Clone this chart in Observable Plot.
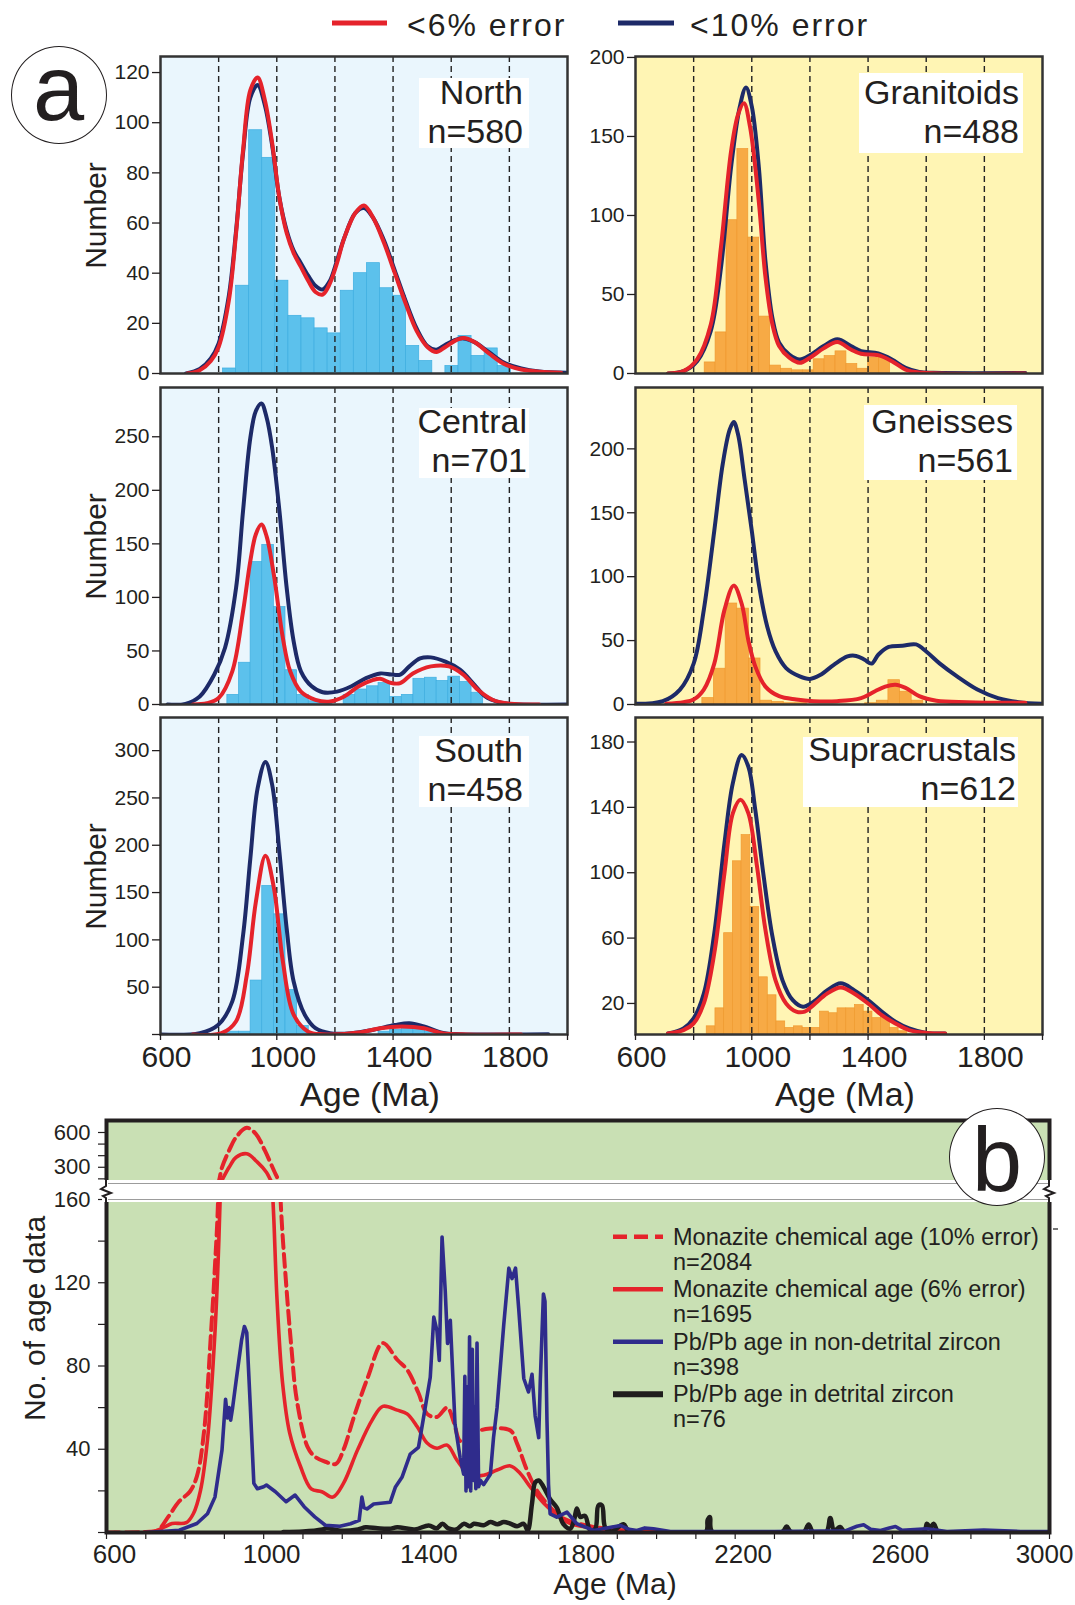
<!DOCTYPE html>
<html><head><meta charset="utf-8">
<script src="https://cdn.jsdelivr.net/npm/d3@7"></script>
<script src="https://cdn.jsdelivr.net/npm/@observablehq/plot@0.6"></script>
<style>
html,body{margin:0;padding:0;background:#fff;}
#root{position:relative;width:1075px;height:1605px;overflow:hidden;background:#fff;font-family:"Liberation Sans",Arial,Helvetica,sans-serif;color:#231f20;}
.t{position:absolute;white-space:nowrap;line-height:1;}
.box{position:absolute;background:#fff;}
.rot{position:absolute;white-space:nowrap;text-align:center;transform:rotate(-90deg);transform-origin:50% 50%;}
</style></head><body><div id="root"></div>
<script>
// ---------------- DATA ----------------
const AGE_DOMAIN = [600, 2000];
const DASHED_AGES = [800, 1000, 1200, 1400, 1600, 1800];
const A_X_TICKS = [600, 800, 1000, 1200, 1400, 1600, 1800, 2000];
const A_X_LABELS = [600, 1000, 1400, 1800];
const PANEL_NAMES = ["North", "Central", "South", "Granitoids", "Gneisses", "Supracrustals"];
const PANEL_N = [580, 701, 458, 488, 561, 612];
const LEGEND_A = ["<6% error", "<10% error"];
const Y_LABEL_A = "Number";
const X_LABEL = "Age (Ma)";

// histogram bins (start age, bin width, counts)
const northBins = {start: 815, width: 45, counts: [2,35,97,86,37,23,22,18,16,33,40,44,34,31,11,5,0,3,15,7,10,3]};
const centralBins = {start: 830, width: 40, counts: [9,39,133,149,91,32,9,3,1,0,9,14,17,20,7,9,24,25,22,26,21,11]};
const southBins = {start: 830, width: 40, counts: [3,3,57,157,127,47,9,0,0,0,0,0,0,3,5,7,6,3]};
const granBins = {start: 838, width: 37.5, counts: [7,26,97,142,86,36,5,3,2,2,9,11,14,6,3,10,10]};
const gneissBins = {start: 830, width: 40, counts: [5,28,79,75,36,3,2,1,1,0,0,0,0,0,1,3,19,10,3]};
const supraBins = {start: 845, width: 30, counts: [6,17,63,107,123,79,36,25,9,5,6,5,5,15,14,17,17,19,15,11,12,5,3]};

// probability curves [age, number]
const northRed = [[692,0],[735,1.3],[773,5],[800,10.6],[835,29],[860,56],[884,89],[909,113],[934,118],[959,109],[984,92],[1009,70],[1034,56],[1058,48],[1083,42.5],[1108,37],[1133,32.5],[1158,31.5],[1183,36],[1207,44],[1232,54],[1270,64],[1300,67],[1332,62],[1369,52],[1406,40],[1443,28],[1481,17],[1518,10.6],[1549,8.6],[1580,10.6],[1617,13.3],[1642,14.2],[1680,12.6],[1730,8],[1779,4],[1841,1.6],[1903,0.7],[1978,0.3]];
const northBlue = [[688,0],[735,1.8],[773,6],[800,12],[835,31],[860,57],[884,88],[909,110],[934,115],[959,107],[984,91],[1009,70],[1034,57],[1058,49],[1083,44],[1108,39],[1133,35],[1158,33.5],[1183,37],[1207,45],[1232,54],[1270,64],[1300,66],[1332,62],[1369,53],[1406,41],[1443,29],[1481,18],[1518,11],[1549,9.5],[1580,11.5],[1617,13.5],[1642,14],[1680,12.5],[1730,8.5],[1779,4.5],[1841,2],[1903,0.8],[2000,0.3]];
const centralBlue = [[624,0],[686,0.6],[735,7.5],[785,28],[822,53],[860,109],[884,181],[909,249],[928,274],[947,281],[965,268],[984,240],[1009,181],[1034,109],[1058,59],[1083,31],[1120,17],[1158,11.5],[1207,12],[1257,17],[1307,24.6],[1356,29],[1394,28],[1425,28],[1456,35.6],[1493,43],[1530,44],[1580,40],[1630,32.5],[1680,18.4],[1717,7.5],[1767,1.9],[1816,0.3],[2000,0]];
const centralRed = [[711,0],[760,1.2],[800,6],[847,31],[884,87],[909,134],[928,159],[947,168],[965,157],[990,121],[1021,62],[1046,31],[1083,12],[1133,4.4],[1183,2.8],[1232,7.5],[1282,17],[1332,23],[1356,24],[1394,20],[1425,20],[1468,29],[1530,35.6],[1592,35.6],[1642,27.8],[1692,13.7],[1742,4.4],[1804,0.6],[1903,0]];
const southBlue = [[600,0],[735,1.4],[798,10],[847,35],[884,105],[909,186],[934,260],[961,288],[984,264],[1009,193],[1034,112],[1058,56],[1096,21],[1133,6.7],[1183,1.4],[1257,1.4],[1332,5],[1406,10],[1456,12],[1506,8.5],[1568,2],[1630,0.3],[1934,0.3]];
const southRed = [[711,0],[810,1.4],[860,14],[897,63],[928,140],[961,189],[990,155],[1021,77],[1058,21],[1108,3],[1158,0.3],[1282,2],[1356,6.7],[1431,8.5],[1506,6.7],[1568,1.4],[1655,0],[1841,0]];
const granBlue = [[712,0],[765,1.5],[812,7.8],[859,27],[894,67],[929,131],[959,169],[980,181],[1000,169],[1024,131],[1047,71],[1071,35],[1094,19.5],[1129,12],[1165,8.9],[1200,11.6],[1247,17.4],[1294,21.6],[1341,17.4],[1376,14.2],[1435,12.7],[1482,8.9],[1529,3.6],[1576,1],[1624,0.4],[1941,0.3]];
const granRed = [[712,0],[765,1.5],[812,8.9],[859,31],[894,80],[929,141],[953,164],[973,171],[994,156],[1024,109],[1047,61],[1071,31],[1094,17.4],[1129,10],[1165,6.8],[1200,10],[1247,15.9],[1294,20],[1341,15.2],[1376,12.5],[1435,11.6],[1482,7.8],[1529,2.5],[1576,0.6],[1941,0]];
const gneissBlue = [[600,0.5],[694,2.6],[753,11.7],[800,32],[835,74],[871,136],[900,188],[924,215],[938,221],[953,211],[976,175],[1000,136],[1024,94.6],[1053,61],[1082,41.5],[1118,28.5],[1165,22],[1200,20],[1235,23],[1282,31],[1329,37.6],[1359,38],[1388,35],[1412,32],[1435,38.9],[1471,45],[1518,46],[1565,47],[1600,41.5],[1647,32],[1706,22],[1776,11.7],[1847,5],[1918,1.8],[2000,0.5]];
const gneissRed = [[706,0.5],[765,1.8],[800,3.9],[835,11.7],[871,32],[906,74],[938,93],[965,79],[988,50.5],[1012,29.8],[1047,14],[1094,6.5],[1153,3.9],[1212,2.6],[1294,2.6],[1376,5],[1424,10.4],[1459,14],[1494,15.5],[1529,13],[1576,6.5],[1635,3],[1741,1.8],[1941,1.3]];
const supraBlue = [[712,1.6],[765,4.7],[800,10.8],[835,26],[871,63],[906,118],[935,155],[965,172],[988,165],[1012,138.5],[1041,97.7],[1071,61],[1106,34],[1141,22],[1176,18],[1212,21],[1259,28],[1306,32.3],[1353,28],[1400,22],[1447,15],[1494,8.8],[1541,4.7],[1600,2],[1665,1.6]];
const supraRed = [[712,1.6],[765,3.7],[800,7.8],[835,20],[871,50.7],[906,99.7],[935,136.5],[961,144.7],[988,136.5],[1018,103.8],[1047,65],[1082,34],[1118,20],[1153,15],[1182,15],[1212,19],[1259,26],[1306,29.8],[1353,26],[1400,20],[1447,12.9],[1494,7.8],[1541,3.7],[1600,2],[1665,1.6]];

// y ticks
const northTicks = [0,20,40,60,80,100,120];
const centralTicks = [0,50,100,150,200,250];
const southTicks = [0,50,100,150,200,250,300];
const southLabels = [50,100,150,200,250,300];
const granTicks = [0,50,100,150,200];
const gneissTicks = [0,50,100,150,200];
const supraTicks = [20,60,100,140,180];

// panel b
const B_AGE_DOMAIN = [600, 3000];
const B_AGE_LABELS = [600, 1000, 1400, 1800, 2200, 2600, 3000];
const B_UPPER_TICKS = [200, 300, 400, 500, 600];
const B_UPPER_LABELS = [300, 600];
const B_LOWER_TICKS = [0, 20, 40, 60, 80, 100, 120, 140, 160];
const B_LOWER_LABELS = [40, 80, 120, 160];
const B_Y_LABEL = "No. of age data";
const B_LEGEND = ["Monazite chemical age (10% error)", "Monazite chemical age (6% error)", "Pb/Pb age in non-detrital zircon", "Pb/Pb age in detrital zircon"];
const B_LEGEND_N = ["n=2084", "n=1695", "n=398", "n=76"];

const monazite10 = [[600,0],[700,0.3],[730,1],[757,7.5],[785,15],[812,19.6],[830,27],[848,48],[866,96],[876,128],[884,160],[894,300],[912,445],[930,560],[957,640],[980,589],[1003,445],[1030,244],[1043,160],[1057,120],[1071,88],[1084,64],[1112,41],[1130,36.5],[1157,34],[1184,33],[1203,39.7],[1230,55.7],[1266,75],[1303,91],[1340,83],[1366,78],[1394,67],[1416,57],[1441,55.5],[1467,60],[1484,53],[1500,44],[1520,45],[1551,49],[1577,50],[1628,49],[1645,42.7],[1670,30],[1696,20],[1730,12],[1763,6.7],[1806,4],[1849,2.4],[1916,1],[2000,0.3]];
const monazite6 = [[620,0],[720,0.5],[748,2.7],[767,4.3],[803,4.7],[821,9],[839,20],[857,44.5],[876,96],[884,130],[890,165],[912,300],[930,387],[957,416],[984,344],[1007,257],[1020,175],[1026,150],[1034,112],[1048,72],[1066,48],[1094,31.6],[1121,21],[1148,19.6],[1176,17],[1203,23.6],[1239,39.7],[1276,54],[1303,60.6],[1340,58.8],[1365,57],[1391,50.8],[1416,43],[1441,40.5],[1467,42],[1492,34.7],[1526,27.5],[1560,27.5],[1594,30],[1628,32],[1653,28.4],[1679,21.8],[1713,14],[1747,8.2],[1781,4.3],[1849,1.9],[1916,1],[2000,0.3]];
const zirconNonDetrital = [[698,0],[785,1.1],[830,4.3],[857,9],[876,17],[894,39.7],[903,64],[908,55],[912,60],[916,54],[921,60],[930,73],[944,92.7],[951,99],[957,96],[966,60.6],[975,23.6],[984,21],[1000,22],[1007,22.8],[1030,19.6],[1057,14.8],[1080,18],[1103,12.4],[1130,7.5],[1157,3.5],[1194,3],[1221,4.2],[1243,5.8],[1250,17],[1255,12],[1263,11.3],[1280,13.7],[1322,14.5],[1335,21.7],[1352,26.5],[1373,37.7],[1394,40.9],[1407,55.3],[1424,74.6],[1433,103.5],[1441,97],[1447,82.7],[1454,142],[1462,116.5],[1468,90.8],[1475,102],[1487,52],[1500,36],[1509,28],[1512,75],[1515,20],[1518,70],[1521,22],[1524,94],[1527,20],[1531,88],[1534,25],[1537,60],[1540,21],[1543,91],[1547,22],[1552,25],[1560,23],[1577,28],[1585,45.6],[1594,60],[1611,99.8],[1624,127],[1632,122],[1641,127],[1649,107.8],[1662,74],[1674,67.5],[1683,76],[1691,56],[1700,45.6],[1704,72.8],[1712,114.6],[1716,111],[1721,54],[1725,23],[1729,9],[1746,7.4],[1772,9.8],[1797,4.2],[1840,1],[1870,2],[1908,3.4],[1930,1.5],[1950,1],[1970,2.2],[1992,1.8],[2035,0.5],[2300,0.5],[2480,0.8],[2510,3],[2527,3.7],[2545,1.5],[2570,1],[2590,2],[2608,2.9],[2625,1],[2688,1.8],[2739,0.5],[2833,1.2],[2926,0.5],[3000,0.5]];
const zirconDetrital = [[1050,0.3],[1100,0.5],[1150,1.5],[1160,2],[1200,0.8],[1240,1.5],[1260,2.5],[1290,2],[1320,1.8],[1340,2.5],[1385,1.5],[1420,3.4],[1440,2],[1455,4.2],[1470,2],[1490,1.5],[1510,4.2],[1525,3],[1535,4.2],[1560,3.5],[1577,5],[1595,4],[1611,5],[1628,4.2],[1645,3],[1662,4.2],[1672,1],[1683,14],[1691,24],[1700,25],[1712,22],[1729,16],[1746,12],[1763,4],[1780,1.8],[1790,6],[1797,11.5],[1806,7.5],[1818,8],[1831,1],[1844,1.8],[1852,13],[1861,13],[1869,2.6],[1885,0.5],[1916,4],[1930,0.5],[2125,0.3],[2130,6],[2136,7.4],[2142,0.3],[2320,0.3],[2331,2.9],[2342,0.3],[2375,0.3],[2387,3.9],[2398,0.3],[2432,0.3],[2442,7],[2452,1],[2467,2.6],[2480,0.3],[2680,0.3],[2688,4.2],[2697,2.5],[2705,4.2],[2714,0.3]];

// ---------------- STYLE ----------------
const RED = "#e5232b", NAVY = "#1d2a68", BLUE_B = "#2f2c8c", BLACK = "#1f1d1d", INK = "#231f20";
const FONT = "'Liberation Sans', Arial, Helvetica, sans-serif";
const root = document.getElementById("root");
function put(el, left, top) { el.style.position = "absolute"; el.style.left = left + "px"; el.style.top = top + "px"; root.appendChild(el); return el; }
function div(cls, html, css) { const d = document.createElement("div"); if (cls) d.className = cls; if (html != null) d.textContent = html; Object.assign(d.style, css || {}); return d; }
function rotLabel(text, cx, cy, fs) {
  const w = 320, h = Math.round(fs * 1.15);
  put(div("rot", text, {width: w + "px", height: h + "px", lineHeight: h + "px", fontSize: fs + "px"}), cx - w / 2, cy - h / 2);
}

// ---------------- PANEL A ----------------
const FW = 407, FH = 317, ML = 110, MR = 14, MT = 12;
const COLX = [160, 635], ROWY = [56, 387, 717];
const LEFT_STYLE = {bg: "#eaf6fd", barFill: "#5cc1ec", barStroke: "#3eaee0"};
const RIGHT_STYLE = {bg: "#fff5b4", barFill: "#f7aa45", barStroke: "#ef9a30"};

const panels = [
  {col:0,row:0,bins:northBins,red:northRed,blue:northBlue,ticks:northTicks,labels:northTicks,ydom:[0,126.4],box:[419,78,529,148],tr:523,b1:106},
  {col:0,row:1,bins:centralBins,red:centralRed,blue:centralBlue,ticks:centralTicks,labels:centralTicks,ydom:[0,296],box:[419,408,529,478],tr:527,b1:435},
  {col:0,row:2,bins:southBins,red:southRed,blue:southBlue,ticks:southTicks,labels:southLabels,ydom:[0,335],box:[419,736,529,807],tr:523,b1:764},
  {col:1,row:0,bins:granBins,red:granRed,blue:granBlue,ticks:granTicks,labels:granTicks,ydom:[0,200.6],box:[859,73,1023,153],tr:1019,b1:106},
  {col:1,row:1,bins:gneissBins,red:gneissRed,blue:gneissBlue,ticks:gneissTicks,labels:gneissTicks,ydom:[0,248],box:[864,405,1017,480],tr:1013,b1:435},
  {col:1,row:2,bins:supraBins,red:supraRed,blue:supraBlue,ticks:supraTicks,labels:supraTicks,ydom:[1,195],box:[803,737,1018,807],tr:1016,b1:763}
];

panels.forEach((p, i) => {
  const st = p.col === 0 ? LEFT_STYLE : RIGHT_STYLE;
  const bottom = p.row === 2;
  const MB = bottom ? 90 : 12;
  const bars = p.bins.counts.map((c, k) => ({x1: p.bins.start + k * p.bins.width, x2: p.bins.start + (k + 1) * p.bins.width, y: c}));
  const marks = [
    Plot.frame({fill: st.bg, stroke: "none"}),
    Plot.rectY(bars, {x1: "x1", x2: "x2", y: "y", fill: st.barFill, stroke: st.barStroke, strokeWidth: 0.7, clip: true}),
    Plot.ruleX(DASHED_AGES, {stroke: "#222", strokeWidth: 1.4, strokeDasharray: "6,4"}),
    Plot.line(p.blue, {x: d => d[0], y: d => d[1], stroke: NAVY, strokeWidth: 4, curve: "catmull-rom", clip: true}),
    Plot.line(p.red, {x: d => d[0], y: d => d[1], stroke: RED, strokeWidth: 4, curve: "catmull-rom", clip: true}),
    Plot.frame({stroke: "#333", strokeWidth: 2.5}),
    Plot.axisY({ticks: p.ticks, tickFormat: d => p.labels.includes(d) ? String(d) : "", tickSize: 8, tickPadding: 3, fontSize: 21, strokeWidth: 1.3, label: null})
  ];
  if (bottom) {
    marks.push(Plot.axisX({ticks: A_X_TICKS, tickFormat: () => "", tickSize: 6, strokeWidth: 1.3, label: null}));
    marks.push(Plot.text(A_X_LABELS, {x: d => d, text: d => String(d), frameAnchor: "bottom", lineAnchor: "top", dy: 11, dx: 6, fontSize: 30, fill: INK}));
    marks.push(Plot.text([X_LABEL], {text: d => d, frameAnchor: "bottom", dy: 71, dx: 6, fontSize: 34, fill: INK}));
  }
  const svg = Plot.plot({
    width: ML + FW + MR, height: MT + FH + MB,
    marginLeft: ML, marginRight: MR, marginTop: MT, marginBottom: MB,
    x: {domain: AGE_DOMAIN, axis: bottom ? undefined : null},
    y: {domain: p.ydom},
    style: {background: "transparent", fontFamily: FONT, color: INK, overflow: "visible"},
    marks
  });
  put(svg, COLX[p.col] - ML, ROWY[p.row] - MT);
  if (p.col === 0) rotLabel(Y_LABEL_A, 95, ROWY[p.row] + FH / 2 + 1, 30);
  // label box
  const [bx0, by0, bx1, by1] = p.box;
  const box = put(div("box", null, {width: (bx1 - bx0) + "px", height: (by1 - by0) + "px"}), bx0, by0);
  const txt = div("t", null, {fontSize: "34px", lineHeight: "39px", textAlign: "right", position: "absolute", right: (bx1 - p.tr) + "px", top: (p.b1 - 33.3 - by0) + "px"});
  txt.innerHTML = PANEL_NAMES[i] + "<br>n=" + PANEL_N[i];
  box.appendChild(txt);
});

// top legend
(function () {
  const s = document.createElementNS("http://www.w3.org/2000/svg", "svg");
  s.setAttribute("width", 1075); s.setAttribute("height", 50);
  s.innerHTML = `<line x1="332" y1="23" x2="387" y2="23" stroke="${RED}" stroke-width="5"/><line x1="618" y1="23" x2="674" y2="23" stroke="${NAVY}" stroke-width="5"/>`;
  put(s, 0, 0);
  put(div("t", LEGEND_A[0], {fontSize: "32px", letterSpacing: "2px"}), 407, 36 - 0.8465 * 32);
  put(div("t", LEGEND_A[1], {fontSize: "32px", letterSpacing: "2px"}), 690, 36 - 0.8465 * 32);
})();

// ---------------- PANEL B ----------------
const BX0 = 106, BW = 943, MLB = 100, MRB = 20;
const fmtFrom = labels => d => labels.includes(d) ? String(d) : "";
const bLines = () => [
  Plot.line(monazite10, {x: d => d[0], y: d => d[1], stroke: RED, strokeWidth: 4, strokeDasharray: "13,6", curve: "catmull-rom", clip: true}),
  Plot.line(monazite6, {x: d => d[0], y: d => d[1], stroke: RED, strokeWidth: 3.6, curve: "catmull-rom", clip: true}),
  Plot.line(zirconDetrital, {x: d => d[0], y: d => d[1], stroke: BLACK, strokeWidth: 4.5, curve: "catmull-rom", clip: true}),
  Plot.line(zirconNonDetrital, {x: d => d[0], y: d => d[1], stroke: BLUE_B, strokeWidth: 3.6, curve: "linear", clip: true})
];
const upper = Plot.plot({
  width: MLB + BW + MRB, height: 6 + 63 + 4,
  marginLeft: MLB, marginRight: MRB, marginTop: 6, marginBottom: 4,
  x: {domain: B_AGE_DOMAIN, axis: null},
  y: {domain: [160, 703.5]},
  style: {background: "transparent", fontFamily: FONT, color: INK, overflow: "visible"},
  marks: [
    Plot.frame({fill: "#c9e0b4", stroke: "none"}),
    ...bLines(),
    Plot.frame({stroke: INK, strokeWidth: 4}),
    Plot.axisY({ticks: B_UPPER_TICKS, tickFormat: fmtFrom(B_UPPER_LABELS), tickSize: 8, tickPadding: 8, fontSize: 22, strokeWidth: 1.2, label: null})
  ]
});
put(upper, BX0 - MLB, 1120 - 6);

const lower = Plot.plot({
  width: MLB + BW + MRB, height: 4 + 333 + 72,
  marginLeft: MLB, marginRight: MRB, marginTop: 4, marginBottom: 72,
  x: {domain: B_AGE_DOMAIN},
  y: {domain: [0, 160]},
  style: {background: "transparent", fontFamily: FONT, color: INK, overflow: "visible"},
  marks: [
    Plot.frame({fill: "#c9e0b4", stroke: "none"}),
    ...bLines(),
    Plot.frame({stroke: INK, strokeWidth: 4}),
    Plot.axisY({ticks: B_LOWER_TICKS, tickFormat: fmtFrom(B_LOWER_LABELS), tickSize: 8, tickPadding: 8, fontSize: 22, strokeWidth: 1.2, label: null}),
    Plot.axisX({ticks: d3.range(600, 3001, 100), tickFormat: () => "", tickSize: 7, strokeWidth: 1.2, label: null}),
    Plot.text(B_AGE_LABELS.slice(0, -1), {x: d => d, text: d => String(d), frameAnchor: "bottom", lineAnchor: "top", dy: 12, dx: 8, fontSize: 26, fill: INK}),
    Plot.text(B_AGE_LABELS.slice(-1), {x: d => d, text: d => String(d), frameAnchor: "bottom", lineAnchor: "top", dy: 12, dx: 24, textAnchor: "end", fontSize: 26, fill: INK}),
    Plot.text([X_LABEL], {text: d => d, frameAnchor: "bottom", dy: 61, dx: 37, fontSize: 30, fill: INK})
  ]
});
put(lower, BX0 - MLB, 1199 - 4);
rotLabel(B_Y_LABEL, 34, 1318, 30);

// axis break band
(function () {
  const gap = put(div(null, null, {width: "952px", height: "22px", background: "#fff"}), 102, 1180);
  gap.appendChild(div(null, null, {position: "absolute", left: "6px", right: "6px", top: "3px", height: "1px", background: "#9c9c9c"}));
  gap.appendChild(div(null, null, {position: "absolute", left: "6px", right: "6px", top: "19px", height: "1px", background: "#9c9c9c"}));
  const s = document.createElementNS("http://www.w3.org/2000/svg", "svg");
  s.setAttribute("width", 1075); s.setAttribute("height", 40);
  const zz = x => `<path d="M${x},0 L${x},6 L${x - 5},9 L${x + 5},13 L${x - 3},16 L${x},18 L${x},22" fill="none" stroke="${INK}" stroke-width="2"/>`;
  s.innerHTML = zz(106) + zz(1049);
  put(s, 0, 1180);
  put(div(null, null, {width: "5px", height: "1.5px", background: "#777"}), 1053, 1228);
})();

// legend b
(function () {
  const s = document.createElementNS("http://www.w3.org/2000/svg", "svg");
  s.setAttribute("width", 80); s.setAttribute("height", 200);
  const ys = [0, 1, 2, 3].map(k => 1245.7 + 52.5 * k - 9 - 1220);
  s.innerHTML =
    `<line x1="0" x2="50" y1="${ys[0]}" y2="${ys[0]}" stroke="${RED}" stroke-width="4.5" stroke-dasharray="14,7"/>` +
    `<line x1="0" x2="50" y1="${ys[1]}" y2="${ys[1]}" stroke="${RED}" stroke-width="4.5"/>` +
    `<line x1="0" x2="50" y1="${ys[2]}" y2="${ys[2]}" stroke="${BLUE_B}" stroke-width="4.5"/>` +
    `<line x1="0" x2="50" y1="${ys[3]}" y2="${ys[3]}" stroke="${BLACK}" stroke-width="6"/>`;
  put(s, 613, 1220);
  B_LEGEND.forEach((t, k) => {
    const base = 1245.7 + 52.5 * k;
    put(div("t", t, {fontSize: "23.5px"}), 673, base - 0.8465 * 23.5);
    put(div("t", B_LEGEND_N[k], {fontSize: "23.5px"}), 673, base + 25 - 0.8465 * 23.5);
  });
})();

// circled panel letters
function circled(letter, cx, cy, r, fs, baseline) {
  put(div(null, null, {width: (2 * r) + "px", height: (2 * r + 2) + "px", borderRadius: "50%", border: "1.5px solid " + INK, background: "#fff", boxSizing: "border-box"}), cx - r, cy - r - 1);
  put(div("t", letter, {fontSize: fs + "px", width: "100px", textAlign: "center"}), cx - 50, baseline - 0.8465 * fs);
}
circled("a", 58.6, 95, 48, 92, 120);
circled("b", 997, 1157, 48, 90, 1191);
</script></body></html>
